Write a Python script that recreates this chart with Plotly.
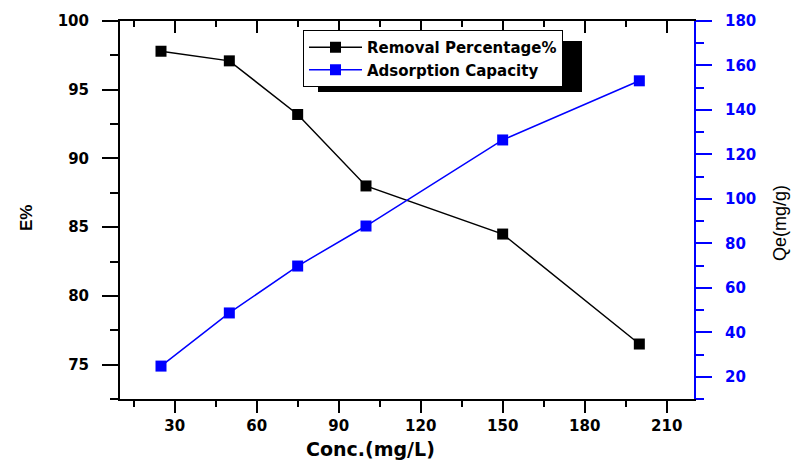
import plotly.graph_objects as go

conc = [25, 50, 75, 100, 150, 200]
removal_pct = [97.8, 97.1, 93.2, 88.0, 84.5, 76.5]
qe = [24.8, 48.7, 69.8, 87.8, 126.5, 153.1]

x_ticks = [30, 60, 90, 120, 150, 180, 210]
e_ticks = [75, 80, 85, 90, 95, 100]
qe_ticks = [20, 40, 60, 80, 100, 120, 140, 160, 180]

W, H = 797, 461
L, R, T, B = 120, 694, 21, 399
def px(x):
    return (x - L) / (R - L)
def py(y):
    return (B - y) / (B - T)

HF = "DejaVu Sans"
AF = "Liberation Sans, Arial"
BLUE = "#0000FF"

fig = go.Figure()
fig.add_trace(go.Scatter(
    x=conc, y=removal_pct, name="Removal Percentage%", mode="lines+markers",
    line=dict(color="black", width=1.5),
    marker=dict(symbol="square", size=11, color="black", line=dict(width=0)),
    xaxis="x", yaxis="y"))
fig.add_trace(go.Scatter(
    x=conc, y=qe, name="Adsorption Capacity", mode="lines+markers",
    line=dict(color=BLUE, width=1.5),
    marker=dict(symbol="square", size=11, color=BLUE, line=dict(width=0)),
    xaxis="x3", yaxis="y2"))

xcommon = dict(range=[10, 220], tickmode="array", tickvals=x_ticks,
               showgrid=False, zeroline=False, showline=True, linecolor="black",
               linewidth=2, tickwidth=2, tickcolor="black")

fig.update_layout(
    width=W, height=H, margin=dict(l=L, r=W - R, t=T, b=H - B),
    paper_bgcolor="white", plot_bgcolor="white",
    font=dict(family=HF, color="black"),
    xaxis=dict(**xcommon, side="bottom", anchor="y", ticks="outside", ticklen=12,
               ticklabelstandoff=0,
               tickfont=dict(family=HF, size=15, weight="bold", color="black"),
               minor=dict(dtick=15, tick0=0, ticks="outside", ticklen=6,
                          tickwidth=2, tickcolor="black")),
    xaxis3=dict(**xcommon, side="top", anchor="y", overlaying="x", ticks="inside",
                ticklen=12, showticklabels=False,
                minor=dict(dtick=15, tick0=0, ticks="inside", ticklen=6,
                           tickwidth=2, tickcolor="black")),
    yaxis=dict(range=[72.5, 100], tickmode="array", tickvals=e_ticks,
               showgrid=False, zeroline=False, showline=True, linecolor="black",
               linewidth=2, ticks="outside", ticklen=16, tickwidth=2,
               tickcolor="black", ticklabelstandoff=10,
               tickfont=dict(family=HF, size=15, weight="bold", color="black"),
               minor=dict(dtick=2.5, tick0=0, ticks="outside", ticklen=8,
                          tickwidth=2, tickcolor="black")),
    yaxis2=dict(range=[10, 180], tickmode="array", tickvals=qe_ticks,
                overlaying="y", side="right", anchor="x",
                showgrid=False, zeroline=False, showline=True, linecolor=BLUE,
                linewidth=2, ticks="outside", ticklen=16, tickwidth=2,
                tickcolor=BLUE, ticklabelstandoff=10,
                tickfont=dict(family=HF, size=15, weight="bold", color=BLUE),
                minor=dict(dtick=10, tick0=0, ticks="outside", ticklen=8,
                           tickwidth=2, tickcolor=BLUE)),
    legend=dict(x=px(303), y=py(30), xanchor="left", yanchor="top",
                bgcolor="white", bordercolor="black", borderwidth=1,
                itemwidth=53, tracegroupgap=0,
                font=dict(family=HF, size=15, weight="bold", color="black")),
    showlegend=True,
)

# legend drop shadow
fig.add_shape(type="rect", xref="paper", yref="paper",
              x0=px(318), x1=px(582), y0=py(92), y1=py(41),
              fillcolor="black", line=dict(width=0), layer="above")

fig.add_annotation(text="<b>E%</b>", xref="paper", yref="paper",
                   x=px(26), y=py(218), xanchor="center", yanchor="middle",
                   textangle=-90, showarrow=False,
                   font=dict(family=AF, size=17, color="black"))
fig.add_annotation(text="Qe(mg/g)", xref="paper", yref="paper",
                   x=px(780), y=py(223), xanchor="center", yanchor="middle",
                   textangle=-90, showarrow=False,
                   font=dict(family=AF, size=18, color="black"))
fig.add_annotation(text="<b>Conc.(mg/L)</b>", xref="paper", yref="paper",
                   x=px(370), y=py(449), xanchor="center", yanchor="middle",
                   showarrow=False,
                   font=dict(family=HF, size=19, color="black"))

fig.write_html("out.html")
